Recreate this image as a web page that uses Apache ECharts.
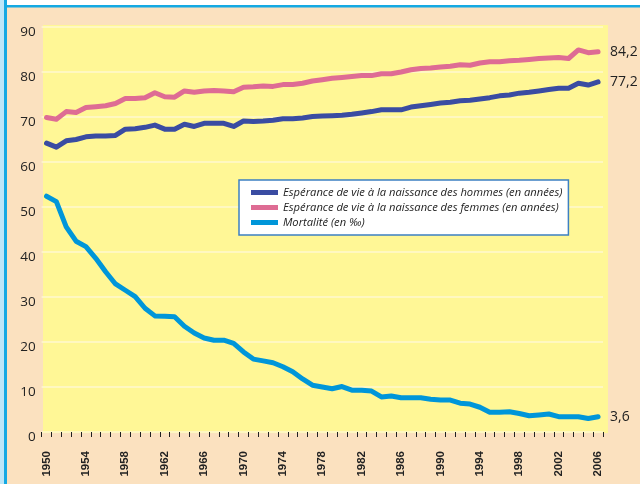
<!DOCTYPE html>
<html>
<head>
<meta charset="utf-8">
<script src="https://cdn.jsdelivr.net/npm/echarts@6/dist/echarts.min.js"></script>
<style>
html,body{margin:0;padding:0;background:#FBE1BF;}
#chart{width:640px;height:484px;}
</style>
</head>
<body>
<div id="chart"></div>
<script>
const years = ['1950','1951','1952','1953','1954','1955','1956','1957','1958','1959',
  '1960','1961','1962','1963','1964','1965','1966','1967','1968','1969',
  '1970','1971','1972','1973','1974','1975','1976','1977','1978','1979',
  '1980','1981','1982','1983','1984','1985','1986','1987','1988','1989',
  '1990','1991','1992','1993','1994','1995','1996','1997','1998','1999',
  '2000','2001','2002','2003','2004','2005','2006'];

const hommes = [64.2,63.3,64.7,65.0,65.6,65.8,65.8,65.9,67.3,67.4,
  67.7,68.2,67.3,67.3,68.4,67.9,68.6,68.6,68.6,67.9,
  69.1,69.0,69.1,69.3,69.6,69.6,69.8,70.1,70.2,70.3,
  70.4,70.6,70.9,71.2,71.6,71.6,71.6,72.2,72.5,72.8,
  73.1,73.3,73.6,73.7,74.0,74.3,74.7,74.9,75.3,75.5,
  75.8,76.1,76.4,76.4,77.5,77.1,77.8];

const femmes = [69.9,69.5,71.2,71.0,72.1,72.3,72.5,73.0,74.1,74.1,
  74.3,75.4,74.5,74.4,75.8,75.5,75.8,75.9,75.8,75.6,
  76.6,76.7,76.9,76.8,77.2,77.2,77.5,78.0,78.3,78.6,
  78.8,79.0,79.2,79.2,79.6,79.6,80.0,80.5,80.8,80.9,
  81.1,81.3,81.6,81.5,82.0,82.3,82.3,82.5,82.6,82.8,
  83.0,83.1,83.2,83.0,84.9,84.3,84.5];

const mortalite = [52.4,51.2,45.6,42.4,41.2,38.6,35.6,32.9,31.5,30.1,
  27.5,25.8,25.7,25.6,23.5,22.0,20.9,20.4,20.4,19.7,
  17.8,16.2,15.8,15.4,14.5,13.4,11.8,10.4,10.0,9.6,
  10.1,9.3,9.3,9.1,7.8,8.0,7.6,7.6,7.6,7.3,
  7.1,7.1,6.4,6.2,5.5,4.4,4.4,4.5,4.1,3.6,
  3.8,4.0,3.4,3.4,3.4,3.0,3.4];

const seriesNames = [
  'Espérance de vie à la naissance des hommes (en années)',
  'Espérance de vie à la naissance des femmes (en années)',
  'Mortalité (en ‰)'
];
const endTexts = ['77,2', '84,2', '3,6'];
const colors = ['#3A4CA2', '#DE6C94', '#0096D9'];
const yTicks = {min: 0, max: 90, interval: 10};

const chart = echarts.init(document.getElementById('chart'), null, {renderer: 'canvas'});

function lineSeries(i, data) {
  return {
    name: seriesNames[i],
    type: 'line',
    data: data,
    symbol: 'none',
    color: colors[i],
    lineStyle: {width: 5, color: colors[i], cap: 'round', join: 'round'},
    endLabel: {
      show: true,
      formatter: () => endTexts[i],
      distance: 12,
      color: '#222',
      fontSize: 14,
      fontFamily: 'Open Sans'
    },
    z: 3 + i
  };
}

chart.setOption({
  backgroundColor: '#FBE1BF',
  animation: false,
  graphic: [
    {type: 'rect', z: -100, shape: {x: 0, y: 0, width: 640, height: 5}, style: {fill: '#FFFFFF'}},
    {type: 'rect', z: -99, shape: {x: 0, y: 5, width: 640, height: 2.5}, style: {fill: '#14A9E3'}},
    {type: 'rect', z: -99, shape: {x: 0, y: 0, width: 4, height: 484}, style: {fill: '#BDE6F8'}},
    {type: 'rect', z: -98, shape: {x: 4, y: 0, width: 3, height: 484}, style: {fill: '#14A9E3'}},
    {type: 'rect', z: -90, shape: {x: 43, y: 25, width: 565, height: 408}, style: {fill: '#FFF796'}}
  ],
  grid: {left: 41.6, right: 37, top: 27, bottom: 52, containLabel: false},
  legend: {
    orient: 'vertical',
    left: 239,
    top: 180,
    data: seriesNames.map(n => ({name: n, icon: 'rect'})),
    itemWidth: 27,
    itemHeight: 5,
    itemGap: 2,
    itemStyle: {borderWidth: 0},
    padding: [6, 6, 6, 12],
    backgroundColor: '#FFFFFF',
    borderColor: '#3D80C2',
    borderWidth: 1.5,
    borderRadius: 0,
    textStyle: {
      fontStyle: 'italic',
      fontSize: 11.2,
      lineHeight: 13,
      color: '#222',
      fontFamily: 'Open Sans'
    },
    selectedMode: false
  },
  xAxis: {
    type: 'category',
    data: years,
    boundaryGap: true,
    axisLine: {show: false},
    axisTick: {show: true, interval: 0, length: 5, lineStyle: {color: '#222', width: 1}},
    axisLabel: {
      interval: 3,
      rotate: 90,
      margin: 19,
      fontSize: 11.5,
      fontWeight: 'bold',
      color: '#222',
      fontFamily: "'Liberation Sans', Arial, sans-serif"
    },
    splitLine: {show: false}
  },
  yAxis: {
    type: 'value',
    min: yTicks.min,
    max: yTicks.max,
    interval: yTicks.interval,
    axisLine: {show: false},
    axisTick: {show: false},
    axisLabel: {
      margin: 6,
      fontSize: 13.5,
      color: '#222',
      fontFamily: 'Open Sans',
      verticalAlign: 'top',
      padding: [-2, 0, 0, 0]
    },
    splitLine: {show: true, lineStyle: {color: '#FFF9CF', width: 1.5}}
  },
  series: [
    lineSeries(0, hommes),
    lineSeries(1, femmes),
    lineSeries(2, mortalite)
  ]
});
</script>
</body>
</html>
